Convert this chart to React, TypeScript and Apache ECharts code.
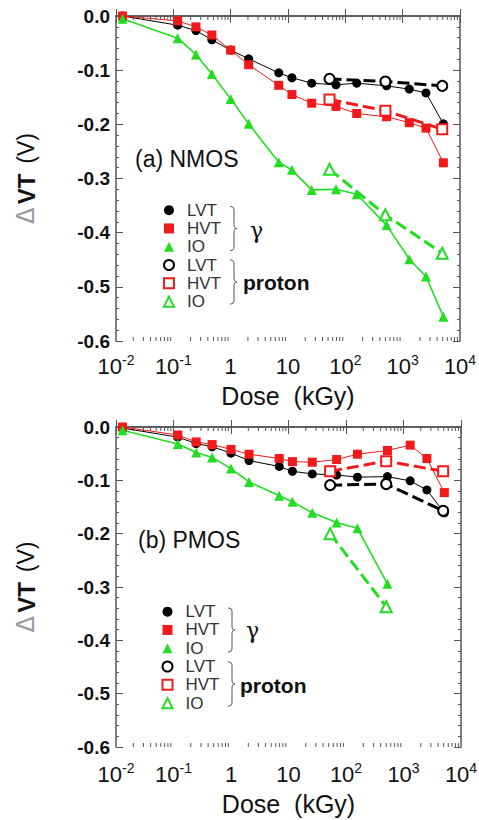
import React, { useEffect, useRef } from 'react';
import * as echarts from 'echarts';

// ---------- data ----------
const gammaDose = [0.013, 0.119, 0.248, 0.47, 1.0, 2.06, 6.9, 11.7, 25.9, 68.7, 158, 525, 1306, 2550, 5130];
const protonDose = [53, 500, 4900];

const nmosGammaLVT = [0, -0.017, -0.027, -0.044, -0.063, -0.079, -0.105, -0.114, -0.124, -0.127, -0.124, -0.129, -0.135, -0.142, -0.199];
const nmosGammaHVT = [0, -0.009, -0.02, -0.035, -0.063, -0.09, -0.128, -0.145, -0.161, -0.167, -0.18, -0.186, -0.197, -0.207, -0.271];
const nmosGammaIO = [-0.005, -0.041, -0.071, -0.107, -0.153, -0.199, -0.27, -0.284, -0.321, -0.32, -0.329, -0.386, -0.449, -0.481, -0.555];
const nmosProtonLVT = [-0.116, -0.121, -0.129];
const nmosProtonHVT = [-0.154, -0.175, -0.209];
const nmosProtonIO = [-0.283, -0.367, -0.438];

const pmosGammaLVT = [-0.002, -0.019, -0.031, -0.037, -0.049, -0.063, -0.074, -0.083, -0.088, -0.09, -0.094, -0.093, -0.101, -0.118, -0.161];
const pmosGammaHVT = [0, -0.015, -0.028, -0.033, -0.042, -0.051, -0.059, -0.065, -0.066, -0.061, -0.051, -0.044, -0.034, -0.059, -0.123];
const pmosGammaIO = [-0.006, -0.032, -0.048, -0.057, -0.078, -0.103, -0.129, -0.14, -0.161, -0.179, -0.19, -0.294];
const pmosProtonLVT = [-0.109, -0.107, -0.157];
const pmosProtonHVT = [-0.083, -0.064, -0.083];
const pmosProtonIO = [-0.2, -0.337];

const decades = [0.01, 0.1, 1, 10, 100, 1000];
const xTickLabels = ['{b|10}{s|-2}', '{b|10}{s|-1}', '{b|1}', '{b|10}', '{b|10}{s|2}', '{b|10}{s|3}', '{b|10}{s|4}'];
const panelTitles = ['(a) NMOS', '(b) PMOS'];

// ---------- styles ----------
const BLACK = '#000000';
const RED = '#f01a1a';
const GREEN = '#22dd22';
const AXIS = '#555555';
const FONT = '"Liberation Sans", Arial, sans-serif';

const braceD = 'M0 0 C3 0 4 1 4 4 L4 18 C4 21 5 22 7 22 C5 22 4 23 4 26 L4 40 C4 43 3 44 0 44';
echarts.graphic.registerShape('brace', echarts.graphic.extendPath(braceD, {}));

const zip = (xs: number[], ys: number[]) => ys.map((y, i) => [xs[i], y]);

function gammaSeries(name: string, axis: number, ys: number[], color: string, symbol: string, size: number, width: number) {
  return {
    name, type: 'line', xAxisIndex: axis, yAxisIndex: axis,
    data: zip(gammaDose, ys), symbol, symbolSize: size, showSymbol: true,
    itemStyle: { color }, lineStyle: { color, width }, z: 3,
  };
}
function protonSeries(name: string, axis: number, ys: number[], color: string, symbol: string, size: number) {
  return {
    name, type: 'line', xAxisIndex: axis, yAxisIndex: axis,
    data: zip(protonDose, ys), symbol, symbolSize: size, showSymbol: true,
    itemStyle: { color, borderColor: color, borderWidth: 1.6 },
    lineStyle: { color, width: 3, type: [12, 5] }, z: 4,
  };
}

function minorTicks(axis: number) {
  return {
    name: 'minor' + axis, type: 'custom', xAxisIndex: axis, yAxisIndex: axis, silent: true, clip: false, z: 1,
    data: decades.map((d) => [d, 0]), encode: { x: 0, y: 1 },
    renderItem: (_p: any, api: any) => {
      const d = api.value(0);
      const children: any[] = [];
      for (let m = 2; m <= 9; m++) {
        const pb = api.coord([d * m, -0.6]);
        const pt = api.coord([d * m, 0]);
        children.push({ type: 'line', shape: { x1: pb[0], y1: pb[1], x2: pb[0], y2: pb[1] - 4 }, style: { stroke: AXIS, lineWidth: 1 } });
        children.push({ type: 'line', shape: { x1: pt[0], y1: pt[1], x2: pt[0], y2: pt[1] + 4 }, style: { stroke: AXIS, lineWidth: 1 } });
      }
      return { type: 'group', children };
    },
  };
}

function xAxes(grid: number, nameGap: number, labelMargin: number) {
  const common = {
    type: 'log', logBase: 10, gridIndex: grid, min: 0.01, max: 10000,
    axisLine: { show: true, lineStyle: { color: AXIS, width: 1.5 } },
    axisTick: { show: true, inside: true, length: 7, lineStyle: { color: AXIS } },
    splitLine: { show: false }, minorTick: { show: false },
  };
  return [
    {
      ...common, position: 'bottom',
      name: 'Dose  (kGy)', nameLocation: 'middle', nameGap,
      nameTextStyle: { fontSize: 25, fontFamily: FONT, color: '#111' },
      axisLabel: {
        show: true, margin: labelMargin, color: '#111',
        formatter: (v: number) => xTickLabels[Math.round(Math.log10(v)) + 2] || '',
        rich: {
          b: { fontSize: 22, fontFamily: FONT, color: '#111', lineHeight: 24, verticalAlign: 'bottom' },
          s: { fontSize: 14, fontFamily: FONT, color: '#111', lineHeight: 14, verticalAlign: 'top' },
        },
      },
    },
    { ...common, position: 'top', axisLabel: { show: false } },
  ];
}

function yAxes(grid: number) {
  const common = {
    type: 'value', gridIndex: grid, min: -0.6, max: 0, interval: 0.1,
    axisLine: { show: true, lineStyle: { color: AXIS, width: 1.5 } },
    axisTick: { show: true, inside: true, length: 7, lineStyle: { color: AXIS } },
    minorTick: { show: true, splitNumber: 5, length: 3, lineStyle: { color: AXIS } },
    splitLine: { show: false },
  };
  return [
    {
      ...common, position: 'left',
      name: '{d|Δ} {v|VT}   {u|(V)}', nameLocation: 'middle', nameGap: 78, nameRotate: 90,
      nameTextStyle: {
        rich: {
          d: { fontSize: 24, fontFamily: '"DejaVu Sans"', color: '#9a9a9a', fontWeight: 'normal' },
          v: { fontSize: 24, fontFamily: FONT, color: '#111', fontWeight: 'bold' },
          u: { fontSize: 23, fontFamily: FONT, color: '#111' },
        },
      },
      axisLabel: {
        show: true, margin: 6, color: '#111', fontSize: 19, fontWeight: 'bold', fontFamily: FONT,
        formatter: (v: number) => v.toFixed(1),
      },
    },
    { ...common, position: 'right', axisLabel: { show: false } },
  ];
}

function legendFor(prefix: string, left: number, top: number) {
  const icons = ['circle', 'rect', 'triangle', 'emptyCircle', 'emptyRect', 'emptyTriangle'];
  const names = ['LVT|g', 'HVT|g', 'IO|g', 'LVT|p', 'HVT|p', 'IO|p'];
  return {
    left, top, orient: 'vertical', itemWidth: 10, itemHeight: 10, itemGap: 0, selectedMode: false,
    padding: 0,
    itemStyle: { borderWidth: 1 },
    data: names.map((n, i) => ({ name: prefix + '|' + n, icon: icons[i] })),
    formatter: (n: string) => n.split('|')[1],
    textStyle: { fontSize: 17, lineHeight: 18.3, color: '#333', fontFamily: FONT, padding: [0, 0, 0, 8] },
  };
}

function annotations(titleX: number, titleY: number, braceX: number, b1y: number, b2y: number, gx: number, gy: number, px: number, py: number, title: string) {
  return [
    { type: 'text', x: titleX, y: titleY, style: { text: title, fontSize: 23, fontFamily: FONT, fill: '#111', align: 'left', verticalAlign: 'middle' } },
    { type: 'brace', x: braceX, y: b1y, scaleX: 1, scaleY: 1, style: { stroke: '#555', fill: null, lineWidth: 1 } },
    { type: 'brace', x: braceX, y: b2y, scaleX: 1, scaleY: 1, style: { stroke: '#555', fill: null, lineWidth: 1 } },
    { type: 'text', x: gx, y: gy, style: { text: 'γ', fontSize: 22, fontFamily: '"DejaVu Serif", serif', fill: '#111', align: 'left', verticalAlign: 'middle' } },
    { type: 'text', x: px, y: py, style: { text: 'proton', fontSize: 21, fontWeight: 'bold', fontFamily: FONT, fill: '#111', align: 'left', verticalAlign: 'middle' } },
  ];
}

export default function App() {
  const ref = useRef<HTMLDivElement>(null);
  useEffect(() => {
    if (!ref.current) return;
    const chart = echarts.init(ref.current, undefined, { renderer: 'svg' });
    const option: any = {
      animation: false,
      backgroundColor: '#ffffff',
      grid: [
        { left: 116, top: 16, width: 344, height: 325, outerBoundsMode: 'none' },
        { left: 116, top: 427, width: 345, height: 320, outerBoundsMode: 'none' },
      ],
      xAxis: [...xAxes(0, 42, 12), ...xAxes(1, 44, 14)],
      yAxis: [...yAxes(0), ...yAxes(1)],
      legend: [legendFor('a', 163, 201), legendFor('b', 161.5, 602.5)],
      series: [
        gammaSeries('a|LVT|g', 0, nmosGammaLVT, BLACK, 'circle', 9, 1),
        gammaSeries('a|HVT|g', 0, nmosGammaHVT, RED, 'rect', 9, 1),
        gammaSeries('a|IO|g', 0, nmosGammaIO, GREEN, 'triangle', 10, 1.6),
        protonSeries('a|LVT|p', 0, nmosProtonLVT, BLACK, 'emptyCircle', 10),
        protonSeries('a|HVT|p', 0, nmosProtonHVT, RED, 'emptyRect', 10),
        protonSeries('a|IO|p', 0, nmosProtonIO, GREEN, 'emptyTriangle', 11),
        gammaSeries('b|LVT|g', 2, pmosGammaLVT, BLACK, 'circle', 9, 1),
        gammaSeries('b|HVT|g', 2, pmosGammaHVT, RED, 'rect', 9, 1),
        gammaSeries('b|IO|g', 2, pmosGammaIO, GREEN, 'triangle', 10, 1.6),
        protonSeries('b|LVT|p', 2, pmosProtonLVT, BLACK, 'emptyCircle', 10),
        protonSeries('b|HVT|p', 2, pmosProtonHVT, RED, 'emptyRect', 10),
        protonSeries('b|IO|p', 2, pmosProtonIO, GREEN, 'emptyTriangle', 11),
        minorTicks(0),
        minorTicks(2),
      ],
      graphic: [
        ...annotations(135, 159, 230, 206.5, 260, 250, 230, 243, 282, panelTitles[0]),
        ...annotations(138, 540, 228, 608, 662, 246, 630, 240, 685, panelTitles[1]),
      ],
    };
    chart.setOption(option);
    return () => chart.dispose();
  }, []);
  return <div ref={ref} style={{ position: 'absolute', left: 0, top: 0, width: 479, height: 820 }} />;
}
